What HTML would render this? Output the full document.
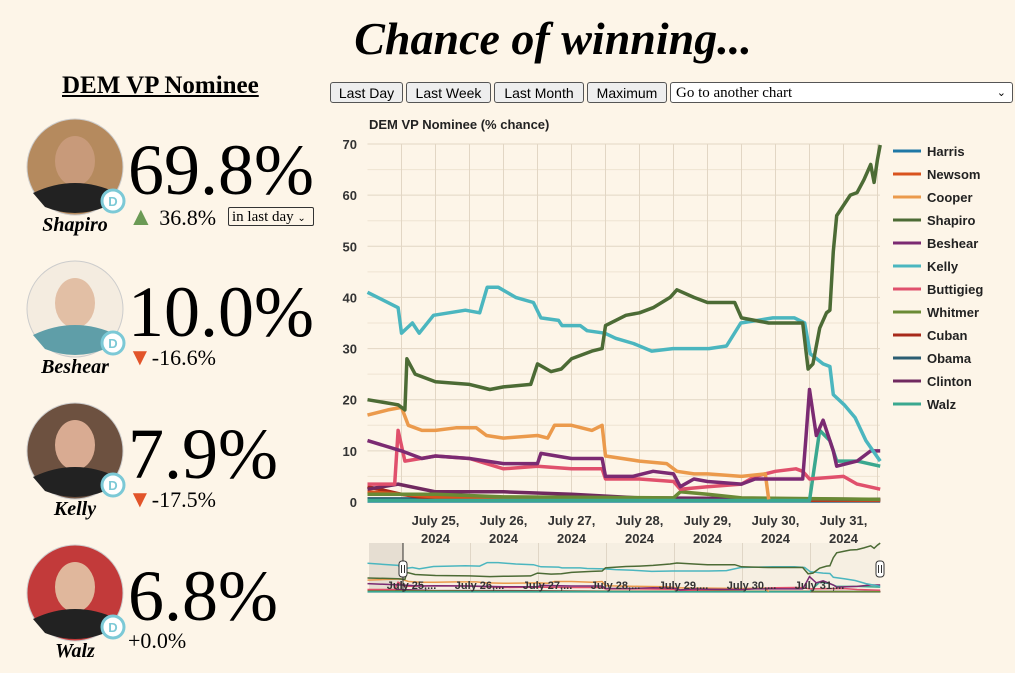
<!DOCTYPE html>
<html><head><meta charset="utf-8">
<style>
body{margin:0;background:#fdf5e8;font-family:"Liberation Serif",serif;}
#root{position:relative;width:1015px;height:673px;overflow:hidden;background:#fdf5e8;}
.abs{position:absolute;}
.title{left:0;width:1106px;top:12px;text-align:center;font-size:46px;font-weight:bold;font-style:italic;}
.sub{left:62px;top:72px;font-size:25px;font-weight:bold;text-decoration:underline;}
.pct{position:absolute;left:128px;font-size:72px;line-height:1;}
.chg{position:absolute;left:128px;font-size:22px;line-height:1;}
.nm{position:absolute;width:150px;left:0;text-align:center;font-size:20px;font-weight:bold;font-style:italic;line-height:1;}
.btn{position:absolute;top:82px;height:21px;border:1px solid #555;border-radius:3px;background:#eee;font-family:"Liberation Sans",sans-serif;font-size:14px;line-height:21px;text-align:center;box-sizing:border-box;}
</style></head><body>
<div id="root">
<div class="abs title">Chance of winning...</div>
<div class="abs sub">DEM VP Nominee</div>

<div id="cands"></div>

<div class="btn" style="left:330px;width:73px">Last Day</div>
<div class="btn" style="left:406px;width:85px">Last Week</div>
<div class="btn" style="left:494px;width:90px">Last Month</div>
<div class="btn" style="left:587px;width:80px">Maximum</div>
<div class="btn" style="left:670px;width:343px;text-align:left;padding-left:5px;background:#fff;font-family:'Liberation Serif',serif;font-size:15px">Go to another chart<span style="position:absolute;right:6px;top:0;font-size:11px">&#x2304;</span></div>

<svg id="chart" class="abs" style="left:0;top:0" width="1015" height="673"></svg>
</div>
<script>
// ---- data (t = days since July 24, 2024 00:00) ----
const names=["Harris","Newsom","Cooper","Shapiro","Beshear","Kelly","Buttigieg","Whitmer","Cuban","Obama","Clinton","Walz"];
const colors=["#1f78a6","#d9531e","#eb9a4c","#4c6b35","#7b2a72","#4bb6bf","#e0506c","#6a8a35","#a8291a","#2b5d72","#70295f","#3aa88f"];
const tickLabels=["July 25,","July 26,","July 27,","July 28,","July 29,","July 30,","July 31,"];
const yTicks=[0,10,20,30,40,50,60,70];
const harrisT=[0,7.54];const harrisV=[0.2,0.2];
const newsomT=[0,0.5,1,3,7.54];const newsomV=[2,1.5,1,0.8,0.4];
const cooperT=[0,0.3,0.5,0.6,0.8,1.0,1.3,1.6,1.75,2.0,2.5,2.65,2.75,3.0,3.3,3.45,3.5,4.0,4.4,4.55,4.8,5.0,5.5,5.85,5.9];
const cooperV=[17,18,18.5,15,14,14,14.5,14.5,13,12.5,13,12.5,15,15,14,15,9,8,7.5,6,5.5,5.5,5,5.5,0.5];
const shapiroT=[0,0.45,0.55,0.58,0.7,1.0,1.5,1.8,2.0,2.4,2.5,2.7,2.85,3.0,3.3,3.45,3.5,3.8,4.0,4.2,4.45,4.55,4.8,5.0,5.4,5.5,5.9,6.3,6.4,6.48,6.55,6.65,6.75,6.8,6.85,6.9,7.0,7.1,7.2,7.3,7.4,7.45,7.5,7.54];
const shapiroV=[20,19,18,28,25,23.5,23,22,22.5,23,27,25.5,26,28,29.5,30,34.5,36.5,37,38,40,41.5,40,39,39,36,35,35,35,26,27,34,37,37.5,49,56,58,60,60.5,63,66,62.5,67,69.8];
const beshearT=[0,0.5,0.8,1.0,1.5,2.0,2.5,2.55,3.0,3.45,3.5,3.9,4.2,4.5,4.6,4.8,5.0,5.5,5.7,6.0,6.4,6.45,6.5,6.6,6.7,6.85,6.9,7.2,7.4,7.54];
const beshearV=[12,10,8.5,9,8.5,7.5,7.5,9.5,8.5,8.5,5,5,6,5.5,3,4.5,4,3.5,4.5,4.5,4.5,13,22,13,16,10,7,8,10,10];
const kellyT=[0,0.45,0.5,0.58,0.66,0.76,0.97,1.44,1.65,1.76,1.92,2.18,2.44,2.55,2.81,2.86,3.13,3.23,3.49,3.65,3.91,4.18,4.49,4.7,5.02,5.28,5.49,5.96,6.28,6.43,6.51,6.7,6.8,6.85,7.01,7.17,7.33,7.54];
const kellyV=[41,38,33,34,35,33,36.5,37.5,37,42,42,40,39,36,35.5,34.5,34.5,33.5,33,32,31,29.5,30,30,30,30.5,35,36,36,35,29,27,26.5,21,19,16.5,12,8];
const buttigiegT=[0,0.4,0.45,0.55,1.0,1.5,2.0,2.5,3.0,3.45,3.5,4.0,4.5,4.6,5.0,5.5,5.7,6.0,6.3,6.4,6.5,7.0,7.2,7.54];
const buttigiegV=[3.5,3.5,14,8,9,8.5,6.5,7,6.5,6.5,4.5,4.5,4,2.5,3,3.5,5,6,6.5,6,4.5,5,3.5,2.5];
const whitmerT=[0,1,2,4.5,4.6,5,5.5,7.54];const whitmerV=[1.5,1.5,1,0.8,2,1.5,0.8,0.5];
const cubanT=[0,0.5,1,7.54];const cubanV=[3,1.5,0.5,0.3];
const obamaT=[0,7.54];const obamaV=[0.6,0.5];
const clintonT=[0,0.45,1,2,3,4,7.54];const clintonV=[2.5,3.5,2,2,1.5,0.8,0.5];
const walzT=[0,6.5,6.65,6.8,6.9,7.2,7.54];const walzV=[0.3,0.3,14,12,8,8,7];
const seriesT=[harrisT,newsomT,cooperT,shapiroT,beshearT,kellyT,buttigiegT,whitmerT,cubanT,obamaT,clintonT,walzT];
const seriesV=[harrisV,newsomV,cooperV,shapiroV,beshearV,kellyV,buttigiegV,whitmerV,cubanV,obamaV,clintonV,walzV];
// candidate panel data
const candNames=["Shapiro","Beshear","Kelly","Walz"];
const candPct=["69.8%","10.0%","7.9%","6.8%"];
const candChg=["36.8%","-16.6%","-17.5%","+0.0%"];
const candDir=[1,-1,-1,0];

const NS="http://www.w3.org/2000/svg";
const svg=document.getElementById('chart');
const X0=367.5,DAY=68,Y0=502,YU=358/70,XR=880;
function xs(t){return X0+t*DAY;}
function ys(v){return Y0-v*YU;}
function el(tag,attrs,parent){const e=document.createElementNS(NS,tag);for(const k in attrs)e.setAttribute(k,attrs[k]);(parent||svg).appendChild(e);return e;}

// grid
const grid=el('g',{});


for(let v=0;v<=70;v+=5){el('line',{x1:X0,x2:XR,y1:ys(v),y2:ys(v),stroke:v%10?'#eee3d2':'#e2d6c4','stroke-width':1},grid);}
for(let t=0.5;xs(t)<=XR;t+=0.5){el('line',{x1:xs(t),x2:xs(t),y1:ys(70),y2:Y0,stroke:'#e2d6c4','stroke-width':1},grid);}
const ct=el('text',{x:369,y:129,'font-family':'Liberation Sans, sans-serif','font-size':13,'font-weight':'bold',fill:'#222'});
ct.textContent='DEM VP Nominee (% chance)';


yTicks.forEach(v=>{const tx=el('text',{x:357,y:ys(v)+5,'text-anchor':'end','font-family':'Liberation Sans, sans-serif','font-size':13,'font-weight':'bold',fill:'#333'});tx.textContent=v;

});
tickLabels.forEach((s,i)=>{const x=xs(i+1);
const a=el('text',{x:x,y:525,'text-anchor':'middle','font-family':'Liberation Sans, sans-serif','font-size':13,'font-weight':'bold',fill:'#333'});a.textContent=s;


const b=el('text',{x:x,y:543,'text-anchor':'middle','font-family':'Liberation Sans, sans-serif','font-size':13,'font-weight':'bold',fill:'#333'});b.textContent='2024';

});

// series (draw low-priority first)
const order=[0,9,8,1,10,7,11,6,2,4,5,3];
order.forEach(i=>{const pts=seriesT[i].map((t,k)=>xs(t).toFixed(1)+','+ys(seriesV[i][k]).toFixed(1)).join(' ');
const p=el('polyline',{points:pts,fill:'none',stroke:colors[i],'stroke-width':3.5,'stroke-linejoin':'round'});

});

// legend
names.forEach((n,i)=>{const y=151+i*23;
const g=el('g',{});


el('line',{x1:893,x2:921,y1:y,y2:y,stroke:colors[i],'stroke-width':3},g);
const tx=el('text',{x:927,y:y+5,'font-family':'Liberation Sans, sans-serif','font-size':13,'font-weight':'bold',fill:'#222'},g);tx.textContent=n;});

// navigator
const nav=el('g',{});


const NY0=592,NY1=543,NU=(NY0-NY1)/70;
el('rect',{x:369,y:NY1,width:511,height:NY0-NY1,fill:'#f6efe2'},nav);
el('rect',{x:369,y:NY1,width:34,height:NY0-NY1,fill:'#e6ded2'},nav);
for(let t=1;t<=7;t++){el('line',{x1:xs(t)-33,x2:xs(t)-33,y1:NY1,y2:NY0,stroke:'#e0d6c6'},nav);}
order.forEach(i=>{const pts=seriesT[i].map((t,k)=>xs(t).toFixed(1)+','+(NY0-seriesV[i][k]*NU).toFixed(1)).join(' ');
el('polyline',{points:pts,fill:'none',stroke:colors[i],'stroke-width':1.5},nav);});
tickLabels.forEach((s,i)=>{const tx=el('text',{x:xs(i+1)-24,y:589,'text-anchor':'middle','font-family':'Liberation Sans, sans-serif','font-size':11,'font-weight':'bold',fill:'#333'},nav);tx.textContent=s+'...';});
el('line',{x1:403,x2:403,y1:NY1,y2:NY0,stroke:'#333'},nav);
[403,880].forEach(x=>{const h=el('rect',{x:x-4,y:561,width:8,height:16,rx:3,fill:'#fff',stroke:'#333'},nav);


el('line',{x1:x-1.5,x2:x-1.5,y1:565,y2:573,stroke:'#333'},nav);el('line',{x1:x+1.5,x2:x+1.5,y1:565,y2:573,stroke:'#333'},nav);});

// candidate panel
const skin=["#c89a7a","#e2bfa5","#d9ab92","#e0b79c"];
const bg=["#b58a5e","#f4ece0","#6d5140","#c23a3a"];
const root=document.getElementById('root');
candNames.forEach((n,i)=>{const off=i*142;
const cy=167+off;
const g=el('g',{});


el('circle',{cx:75,cy:cy,r:48,fill:bg[i],stroke:'#ccc'},g);
el('ellipse',{cx:75,cy:cy-6,rx:20,ry:25,fill:skin[i]},g);
el('path',{d:`M${75-42},${cy+26} Q75,${cy+6} ${75+42},${cy+26} L${75+30},${cy+40} Q75,${cy+52} ${75-30},${cy+40} Z`,fill:i==1?'#5f9ea8':'#222'},g);
el('circle',{cx:113,cy:cy+34,r:11,fill:'#fff',stroke:'#7cc9d6','stroke-width':3},g);
const d=el('text',{x:113,y:cy+39,'text-anchor':'middle','font-family':'Liberation Sans, sans-serif','font-size':13,'font-weight':'bold',fill:'#7cc9d6'},g);d.textContent='D';
const nm=document.createElement('div');nm.className='nm';nm.style.top=(215+off)+'px';nm.textContent=n;


root.appendChild(nm);
const p=document.createElement('div');p.className='pct';p.style.top=(134+off)+'px';p.textContent=candPct[i];


root.appendChild(p);
const c=document.createElement('div');c.className='chg';c.style.top=(204+off)+'px';
const arrow=candDir[i]>0?'<span style="color:#6b9a55;font-size:26px">&#9650;</span> ':candDir[i]<0?'<span style="color:#e2542a;font-size:24px">&#9660;</span>':'';
c.innerHTML=arrow+candChg[i];


root.appendChild(c);
});
const sel=document.createElement('div');sel.className='abs';
sel.style.cssText='left:228px;top:207px;width:86px;height:19px;border:1px solid #333;border-radius:2px;background:#fdf5e8;font-size:15px;line-height:18px;box-sizing:border-box;padding-left:3px;';
sel.innerHTML='in last day <span style="font-size:10px">&#x2304;</span>';


root.appendChild(sel);
</script>
</body></html>
